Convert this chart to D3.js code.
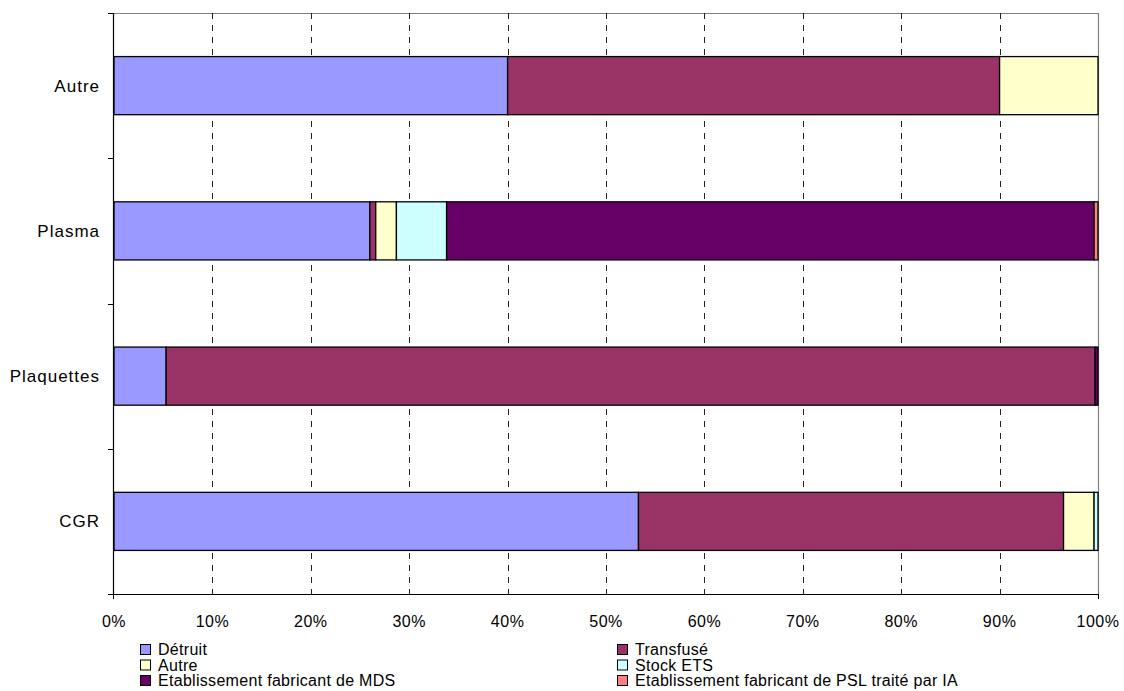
<!DOCTYPE html>
<html>
<head>
<meta charset="utf-8">
<script src="https://cdn.jsdelivr.net/npm/d3@7"></script>
<style>
  body { margin: 0; background: #fff; }
  text { font-family: "Liberation Sans", Arial, sans-serif; }
</style>
</head>
<body>
<div id="chart"></div>
<script>
var w = 1124, h = 691;

// categories top to bottom
var categories = ["Autre", "Plasma", "Plaquettes", "CGR"];
var seriesNames = ["Détruit", "Transfusé", "Autre", "Stock ETS",
  "Etablissement fabricant de MDS", "Etablissement fabricant de PSL traité par IA"];
var seriesColors = ["#9999FF", "#993366", "#FFFFCC", "#CCFFFF", "#660066", "#FF8080"];

// percent share per category, one array per series (order = categories)
var detruit   = [40.0, 26.0, 5.3, 53.3];
var transfuse = [50.0, 0.6, 94.4, 43.2];
var autre     = [10.0, 2.1, 0.0, 3.1];
var stockEts  = [0.0, 5.1, 0.0, 0.4];
var mds       = [0.0, 65.8, 0.3, 0.0];
var pslIa     = [0.0, 0.4, 0.0, 0.0];
var xTicks = [0, 10, 20, 30, 40, 50, 60, 70, 80, 90, 100];

var series = [detruit, transfuse, autre, stockEts, mds, pslIa];

var margin = {left: 114, right: 26, top: 13, bottom: 97};

var svg = d3.select("#chart").append("svg")
  .attr("width", w)
  .attr("height", h);

var x = d3.scaleLinear()
  .domain([0, 100])
  .range([margin.left, w - margin.right]);

var y = d3.scaleBand()
  .domain(categories)
  .range([margin.top, h - margin.bottom])
  .paddingInner(0.6)
  .paddingOuter(0.3);

var yOuter = d3.scaleBand()
  .domain(categories)
  .range([margin.top, h - margin.bottom]);

// plot border top/right
svg.append("path")
  .attr("d", "M" + x(0) + "," + (margin.top + 0.5) + "H" + (x(100) + 0.5) + "V" + (h - margin.bottom))
  .attr("fill", "none")
  .attr("stroke", "#808080")
  .attr("stroke-width", 1.2);

// dashed gridlines
svg.append("g")
  .selectAll("line")
  .data(xTicks.filter(function(d) { return d > 0 && d < 100; }))
  .enter()
  .append("line")
  .attr("x1", function(d) { return Math.round(x(d)) + 0.5; })
  .attr("x2", function(d) { return Math.round(x(d)) + 0.5; })
  .attr("y1", margin.top)
  .attr("y2", h - margin.bottom)
  .attr("stroke", "#222")
  .attr("stroke-dasharray", "6,6");

// stacked bars
var rows = categories.map(function(c, i) {
  var acc = 0;
  return series.map(function(s, j) {
    var seg = {cat: c, s: j, x0: acc, x1: acc + s[i]};
    acc += s[i];
    return seg;
  }).filter(function(d) { return d.x1 > d.x0; });
});

svg.append("g")
  .selectAll("rect")
  .data(d3.merge(rows))
  .enter()
  .append("rect")
  .attr("x", function(d) { return x(d.x0); })
  .attr("y", function(d) { return y(d.cat); })
  .attr("width", function(d) { return x(d.x1) - x(d.x0); })
  .attr("height", y.bandwidth())
  .attr("fill", function(d) { return seriesColors[d.s]; })
  .attr("stroke", "#000")
  .attr("stroke-width", 1.3);

// y axis
var yAxisG = svg.append("g");
yAxisG.append("line")
  .attr("x1", x(0) - 0.5).attr("x2", x(0) - 0.5)
  .attr("y1", margin.top).attr("y2", h - margin.bottom)
  .attr("stroke", "#000").attr("stroke-width", 1.2);
var yTickPos = categories.map(function(c) { return yOuter(c); }).concat([h - margin.bottom]);
yAxisG.selectAll(".tk")
  .data(yTickPos)
  .enter()
  .append("line")
  .attr("x1", x(0) - 6).attr("x2", x(0))
  .attr("y1", function(d) { return Math.round(d) + 0.5; })
  .attr("y2", function(d) { return Math.round(d) + 0.5; })
  .attr("stroke", "#000");
yAxisG.selectAll("text")
  .data(categories)
  .enter()
  .append("text")
  .attr("x", x(0) - 14)
  .attr("y", function(d) { return y(d) + y.bandwidth() / 2; })
  .attr("dy", "0.35em")
  .attr("text-anchor", "end")
  .attr("font-size", 17)
  .attr("letter-spacing", 1)
  .text(function(d) { return d; });

// x axis
var xAxisG = svg.append("g");
xAxisG.append("line")
  .attr("x1", x(0) - 0.5).attr("x2", x(100) + 0.5)
  .attr("y1", h - margin.bottom + 0.5).attr("y2", h - margin.bottom + 0.5)
  .attr("stroke", "#000").attr("stroke-width", 1.2);
xAxisG.selectAll(".tk")
  .data([0, 100])
  .enter()
  .append("line")
  .attr("x1", function(d) { return x(d) - 0.5 + (d === 100 ? 1 : 0); })
  .attr("x2", function(d) { return x(d) - 0.5 + (d === 100 ? 1 : 0); })
  .attr("y1", h - margin.bottom)
  .attr("y2", h - margin.bottom + 5)
  .attr("stroke", "#000");
xAxisG.selectAll("text")
  .data(xTicks)
  .enter()
  .append("text")
  .attr("x", function(d) { return x(d); })
  .attr("y", 627)
  .attr("text-anchor", "middle")
  .attr("font-size", 16)
  .attr("letter-spacing", 0.5)
  .text(function(d) { return d + "%"; });

// legend
var legend = svg.append("g");
var items = legend.selectAll("g")
  .data(seriesNames)
  .enter()
  .append("g")
  .attr("transform", function(d, i) {
    var col = i % 2, row = Math.floor(i / 2);
    return "translate(" + (col === 0 ? 140 : 617) + "," + (655 + row * 15.5) + ")";
  });
items.append("rect")
  .attr("x", 0.5)
  .attr("y", -10.5)
  .attr("width", 10)
  .attr("height", 10)
  .attr("fill", function(d, i) { return seriesColors[i]; })
  .attr("stroke", "#000");
items.append("text")
  .attr("x", 18)
  .attr("y", 0)
  .attr("font-size", 16)
  .attr("letter-spacing", 0.3)
  .text(function(d) { return d; });
</script>
</body>
</html>
